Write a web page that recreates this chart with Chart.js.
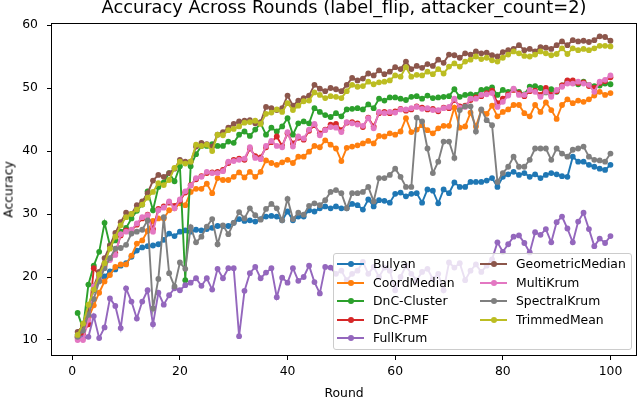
<!DOCTYPE html>
<html>
<head>
<meta charset="utf-8">
<script src="https://cdn.jsdelivr.net/npm/chart.js@4.4.0/dist/chart.umd.min.js"></script>
<style>
  html, body { margin: 0; padding: 0; background: #fff; }
  #wrap { position: relative; width: 640px; height: 400px; font-family: "DejaVu Sans", sans-serif; color: #000; }
  #chart { position: absolute; left: 0; top: 0; }
  .txt { position: absolute; white-space: nowrap; }
  #title { left: 44px; width: 600px; top: -3px; text-align: center; font-size: 17.8px; line-height: 20px; }
  #xlabel { left: 244px; width: 200px; top: 385px; text-align: center; font-size: 12.4px; line-height: 15px; }
  #ylabel { left: -92px; width: 200px; top: 182px; text-align: center; font-size: 12.4px; line-height: 15px; transform: rotate(-90deg); }
  #legend { position: absolute; left: 333px; top: 253px; width: 297px; height: 95px;
            background: rgba(255,255,255,0.8); border: 1px solid #cccccc; border-radius: 3px; }
  .item { position: absolute; width: 140px; height: 16px; font-size: 12.4px; line-height: 16px; white-space: nowrap; }
  .item .ln { position: absolute; left: 0; top: 7px; width: 27px; height: 2px; }
  .item .dot { position: absolute; left: 10.5px; top: 5px; width: 6px; height: 6px; border-radius: 50%; }
  .item span { position: absolute; left: 36px; top: 0; white-space: nowrap; }
</style>
</head>
<body>
<div id="wrap">
  <canvas id="chart" width="640" height="400"></canvas>
  <div class="txt" id="title">Accuracy Across Rounds (label_flip, attacker_count=2)</div>
  <div class="txt" id="xlabel">Round</div>
  <div class="txt" id="ylabel">Accuracy</div>
  <div id="legend"></div>
</div>
<script>
const rounds = [1, 2, 3, 4, 5, 6, 7, 8, 9, 10, 11, 12, 13, 14, 15, 16, 17, 18, 19, 20,
  21, 22, 23, 24, 25, 26, 27, 28, 29, 30, 31, 32, 33, 34, 35, 36, 37, 38, 39, 40,
  41, 42, 43, 44, 45, 46, 47, 48, 49, 50, 51, 52, 53, 54, 55, 56, 57, 58, 59, 60,
  61, 62, 63, 64, 65, 66, 67, 68, 69, 70, 71, 72, 73, 74, 75, 76, 77, 78, 79, 80,
  81, 82, 83, 84, 85, 86, 87, 88, 89, 90, 91, 92, 93, 94, 95, 96, 97, 98, 99, 100];

const seriesNames = ['Bulyan', 'CoordMedian', 'DnC-Cluster', 'DnC-PMF', 'FullKrum',
  'GeometricMedian', 'MultiKrum', 'SpectralKrum', 'TrimmedMean'];
const seriesColors = ['#1f77b4', '#ff7f0e', '#2ca02c', '#d62728', '#9467bd',
  '#8c564b', '#e377c2', '#7f7f7f', '#bcbd22'];

const xTicks = [0, 20, 40, 60, 80, 100];
const yTicks = [10, 20, 30, 40, 50, 60];

const bulyan = [10.8, 12.6, 15.3, 17.9, 19.4, 20.1, 20.9, 21.2, 21.8, 22.2,
  23.2, 24.2, 24.7, 24.9, 25.0, 25.2, 25.9, 26.9, 26.5, 27.2,
  27.4, 27.2, 27.5, 27.4, 27.6, 27.8, 28.1, 28.1, 28.1, 28.6,
  29.2, 28.9, 29.0, 28.8, 29.2, 29.6, 29.7, 29.6, 29.0, 30.4,
  29.0, 29.6, 29.6, 30.6, 30.4, 30.9, 31.2, 30.9, 31.2, 30.9,
  30.9, 31.6, 31.4, 30.7, 32.3, 31.2, 32.2, 32.1, 31.8, 33.2,
  33.4, 32.8, 33.2, 33.3, 31.8, 33.9, 33.7, 31.7, 33.9, 33.3,
  35.0, 34.3, 34.3, 35.1, 35.1, 35.1, 35.3, 35.7, 34.3, 35.9,
  36.3, 36.7, 36.2, 36.5, 35.9, 36.3, 35.7, 36.2, 36.5, 36.3,
  36.0, 35.9, 39.1, 38.3, 38.3, 37.8, 37.5, 37.2, 37.0, 37.8];

const coordMedian = [10.5, 11.5, 13.5, 15.5, 17.5, 19.3, 20.3, 21.6, 22.0, 22.0,
  23.4, 25.3, 25.8, 27.3, 28.9, 29.3, 29.3, 30.6, 30.9, 31.7,
  31.4, 33.5, 34.0, 34.0, 34.8, 33.3, 35.7, 35.4, 35.4, 35.9,
  36.6, 35.8, 36.7, 35.9, 36.7, 38.5, 38.1, 37.8, 38.2, 38.6,
  38.1, 39.1, 39.1, 39.9, 40.8, 40.6, 41.7, 41.0, 40.4, 38.4,
  40.5, 40.7, 40.9, 41.2, 41.6, 41.2, 42.4, 42.3, 42.8, 42.6,
  43.1, 45.2, 43.0, 43.4, 44.1, 43.3, 42.8, 43.6, 44.0, 44.0,
  46.9, 43.7, 43.9, 46.1, 43.9, 46.5, 45.9, 47.2, 45.5, 46.2,
  46.6, 47.3, 47.3, 46.0, 45.5, 47.3, 46.2, 47.7, 46.5, 45.1,
  47.3, 48.2, 47.6, 48.0, 47.8, 48.2, 48.8, 49.4, 48.9, 49.2];

const dncCluster = [14.3, 11.8, 18.8, 21.8, 24.0, 28.6, 25.0, 25.8, 27.2, 27.8,
  29.3, 30.5, 31.5, 33.6, 30.6, 34.3, 35.0, 36.5, 35.2, 37.6,
  19.5, 37.6, 39.5, 40.8, 40.8, 41.1, 40.8, 40.8, 41.5, 41.3,
  42.6, 43.1, 42.4, 43.4, 44.4, 42.6, 43.7, 43.1, 43.9, 45.2,
  42.6, 44.4, 44.7, 44.4, 46.8, 46.2, 45.7, 45.4, 46.0, 45.5,
  46.6, 46.7, 46.8, 46.6, 47.4, 46.8, 48.3, 48.0, 48.5, 48.5,
  48.3, 48.1, 48.6, 48.7, 48.3, 48.8, 48.4, 48.5, 48.6, 48.7,
  49.8, 48.6, 48.9, 49.0, 48.9, 49.7, 49.8, 50.1, 48.9, 49.7,
  49.4, 49.8, 49.4, 49.0, 50.2, 50.3, 50.0, 49.3, 49.8, 49.4,
  50.4, 51.1, 50.8, 50.6, 51.0, 50.5, 50.3, 50.4, 50.7, 50.6];

const dncPmf = [10.3, 11.0, 12.5, 21.4, 20.3, 21.8, 22.9, 23.8, 26.6, 27.4,
  27.4, 28.3, 29.3, 29.9, 27.6, 30.8, 31.2, 31.8, 31.3, 32.1,
  33.4, 34.6, 35.5, 36.0, 36.5, 36.6, 36.7, 37.0, 38.1, 38.6,
  38.8, 38.6, 40.4, 39.2, 39.0, 40.6, 41.4, 42.3, 40.8, 42.8,
  41.2, 42.1, 41.8, 43.2, 44.1, 42.8, 43.4, 44.2, 44.3, 43.3,
  44.5, 44.6, 44.4, 43.8, 45.3, 43.9, 46.0, 46.2, 46.0, 46.3,
  46.7, 46.4, 46.6, 47.1, 46.9, 46.6, 46.7, 46.3, 46.9, 46.8,
  48.1, 47.1, 47.2, 48.1, 48.5, 48.7, 49.2, 49.6, 47.6, 48.3,
  49.0, 49.7, 49.2, 48.7, 49.5, 49.6, 48.9, 50.0, 48.9, 49.5,
  50.4, 51.2, 51.2, 50.8, 50.9, 50.3, 50.0, 50.8, 51.1, 51.7];

const fullKrum = [10.5, 10.3, 10.5, 13.8, 10.3, 12.0, 16.6, 15.4, 11.9, 18.2,
  16.1, 13.4, 16.1, 17.9, 12.5, 17.5, 15.6, 17.1, 18.2, 17.9,
  18.7, 19.1, 19.8, 18.6, 19.8, 18.0, 21.3, 19.8, 21.4, 21.4,
  10.6, 17.8, 20.6, 21.6, 19.8, 20.7, 21.4, 16.8, 19.9, 19.1,
  21.4, 19.4, 20.0, 21.8, 19.2, 17.4, 21.6, 21.5, 20.5, 21.0,
  19.5, 20.5, 21.0, 22.4, 20.5, 21.6, 20.0, 21.5, 21.0, 17.9,
  20.0, 21.8, 20.5, 19.5, 20.8, 21.3, 19.7, 20.5, 17.9, 22.3,
  21.5, 22.2, 19.5, 21.0, 22.0, 20.8, 21.8, 22.8, 25.5, 24.0,
  25.2, 26.4, 26.6, 25.4, 23.9, 27.1, 26.7, 27.6, 25.5, 28.7,
  29.6, 27.7, 25.5, 28.8, 30.2, 27.6, 24.9, 26.1, 25.4, 26.5];

const geometricMedian = [11.3, 12.3, 14.5, 18.5, 20.8, 23.0, 25.0, 27.0, 28.7, 30.2,
  30.0, 31.4, 32.0, 33.3, 35.3, 36.2, 35.9, 36.5, 37.2, 38.6,
  38.3, 38.3, 40.7, 41.3, 41.1, 40.7, 42.6, 43.0, 43.7, 44.3,
  44.7, 44.8, 44.9, 44.4, 44.6, 47.0, 46.8, 46.5, 46.8, 48.8,
  47.2, 48.0, 48.4, 48.8, 50.5, 49.9, 49.5, 50.0, 49.8, 49.5,
  50.5, 51.6, 51.2, 51.5, 52.3, 52.0, 52.8, 52.2, 52.6, 53.3,
  53.0, 54.2, 53.0, 53.5, 53.2, 53.8, 53.5, 54.5, 54.0, 55.3,
  55.2, 54.8, 55.5, 55.3, 55.8, 55.5, 55.6, 55.2, 55.0, 55.7,
  56.0, 56.2, 56.8, 56.0, 56.2, 55.8, 56.5, 56.4, 56.2, 56.8,
  57.4, 56.8, 57.6, 57.4, 57.5, 57.3, 57.6, 58.2, 58.1, 57.5];

const multiKrum = [10.0, 10.0, 13.2, 18.5, 19.8, 22.0, 22.7, 23.5, 26.8, 27.2,
  27.5, 28.5, 29.5, 29.8, 27.2, 30.6, 31.0, 32.0, 30.9, 32.3,
  33.6, 34.5, 35.7, 35.9, 36.7, 36.5, 36.5, 36.8, 38.3, 38.4,
  38.6, 38.8, 40.6, 38.9, 38.7, 40.8, 41.6, 40.8, 40.6, 43.0,
  40.7, 42.3, 42.0, 43.4, 44.3, 42.5, 43.3, 43.8, 43.7, 43.0,
  44.6, 44.4, 44.2, 44.0, 45.2, 43.6, 46.2, 46.0, 46.2, 46.1,
  46.6, 46.6, 46.8, 47.0, 46.7, 46.8, 46.5, 46.5, 46.8, 47.0,
  48.3, 46.9, 47.0, 48.3, 48.3, 48.9, 49.0, 49.2, 47.0, 47.8,
  48.8, 49.9, 48.9, 48.9, 49.7, 49.4, 48.6, 49.4, 48.6, 49.7,
  50.2, 50.7, 50.7, 51.0, 50.7, 50.5, 49.4, 51.0, 51.3, 52.0];

const spectralKrum = [10.5, 11.5, 14.0, 16.5, 19.3, 21.4, 23.0, 24.5, 24.6, 25.1,
  26.9, 27.2, 27.5, 29.0, 15.0, 19.7, 29.5, 20.6, 18.5, 22.3,
  21.3, 27.9, 25.5, 26.4, 28.0, 29.2, 25.2, 28.2, 26.8, 28.6,
  30.3, 29.3, 30.9, 29.8, 29.1, 30.8, 31.6, 30.9, 29.0, 32.4,
  29.2, 30.2, 29.9, 31.3, 31.7, 31.4, 32.2, 33.5, 33.8, 33.3,
  30.9, 33.3, 33.3, 33.5, 34.3, 32.0, 35.7, 35.7, 36.2, 37.2,
  35.9, 34.3, 34.3, 45.3, 44.7, 40.4, 36.5, 38.3, 41.5, 41.5,
  38.9, 46.5, 47.1, 47.1, 43.1, 46.6, 44.9, 44.1, 35.1, 36.5,
  37.5, 39.1, 37.5, 37.5, 38.6, 40.4, 40.4, 40.4, 38.6, 40.4,
  39.6, 39.1, 40.2, 40.4, 40.7, 39.1, 38.6, 38.5, 38.3, 39.6];

const trimmedMean = [10.8, 12.6, 15.6, 18.0, 20.4, 22.2, 24.5, 26.4, 28.2, 29.5,
  30.0, 30.7, 31.5, 32.6, 33.5, 34.9, 34.6, 35.4, 37.3, 38.3,
  38.0, 38.3, 41.0, 40.8, 41.0, 40.0, 42.6, 42.5, 43.3, 43.5,
  43.9, 44.5, 44.6, 44.8, 44.3, 45.9, 46.1, 46.6, 46.2, 47.6,
  46.5, 47.2, 47.9, 48.0, 49.3, 48.9, 48.4, 48.7, 48.6, 48.4,
  49.5, 50.5, 50.2, 50.3, 51.0, 50.6, 50.9, 51.0, 51.2, 52.0,
  51.8, 53.3, 51.8, 52.1, 52.0, 52.6, 52.2, 53.0, 52.3, 53.4,
  53.9, 53.4, 54.2, 54.5, 55.0, 54.6, 54.8, 54.4, 54.2, 54.8,
  55.3, 55.8, 55.5, 55.1, 55.0, 55.3, 55.8, 55.5, 55.2, 55.4,
  56.3, 55.4, 56.3, 56.0, 56.2, 56.0, 56.3, 56.7, 56.7, 56.6];

const seriesValues = [bulyan, coordMedian, dncCluster, dncPmf, fullKrum,
  geometricMedian, multiKrum, spectralKrum, trimmedMean];

// matplotlib draws later series on top, chart.js the other way round
const datasets = seriesNames.map((name, i) => ({
  label: name,
  data: rounds.map((r, j) => ({ x: r, y: seriesValues[i][j] })),
  borderColor: seriesColors[i],
  backgroundColor: seriesColors[i],
  pointBackgroundColor: seriesColors[i],
  borderWidth: 1.9,
  pointRadius: 2.9,
  pointBorderWidth: 0,
  pointHoverRadius: 0,
  tension: 0,
  fill: false,
  order: seriesNames.length - i
}));

// full box round the axes, like matplotlib spines
const frame = {
  id: 'frame',
  afterDatasetsDraw(chart) {
    const a = chart.chartArea;
    const ctx = chart.ctx;
    ctx.save();
    ctx.strokeStyle = '#000';
    ctx.lineWidth = 1;
    ctx.strokeRect(Math.round(a.left) + 0.5, Math.round(a.top) + 0.5,
      Math.round(a.right - a.left) - 1, Math.round(a.bottom - a.top) - 1);
    ctx.restore();
  }
};

Chart.defaults.font.family = '"DejaVu Sans", sans-serif';
Chart.defaults.font.size = 12.4;
Chart.defaults.color = '#000';

const axisGrid = {
  display: true,
  drawOnChartArea: false,
  drawTicks: true,
  tickLength: 4,
  tickColor: '#000',
  tickWidth: 1
};

new Chart(document.getElementById('chart'), {
  type: 'line',
  data: { datasets: datasets },
  plugins: [frame],
  options: {
    responsive: false,
    animation: false,
    events: [],
    layout: { padding: { left: 0, right: 2, top: 23, bottom: 0 } },
    plugins: {
      legend: { display: false },
      title: { display: false },
      tooltip: { enabled: false }
    },
    scales: {
      x: {
        type: 'linear',
        min: -3.95,
        max: 104.95,
        grid: axisGrid,
        border: { display: false },
        ticks: { padding: 4, maxRotation: 0, color: '#000' },
        afterBuildTicks: s => { s.ticks = xTicks.map(v => ({ value: v })); },
        afterFit: s => { s.height = 44; }
      },
      y: {
        type: 'linear',
        min: 7.46,
        max: 60.32,
        grid: axisGrid,
        border: { display: false },
        ticks: { padding: 9, color: '#000' },
        afterBuildTicks: s => { s.ticks = yTicks.map(v => ({ value: v })); },
        afterFit: s => { s.width = 51; }
      }
    }
  }
});

// legend inside the axes, two columns filled top to bottom
const legend = document.getElementById('legend');
seriesNames.forEach((name, i) => {
  const col = Math.floor(i / 5);
  const row = i % 5;
  const item = document.createElement('div');
  item.className = 'item';
  item.style.left = (3 + col * 143) + 'px';
  item.style.top = (2 + row * 18.6) + 'px';
  item.innerHTML = '<div class="ln" style="background:' + seriesColors[i] + '"></div>' +
    '<div class="dot" style="background:' + seriesColors[i] + '"></div>' +
    '<span>' + name + '</span>';
  legend.appendChild(item);
});
</script>
</body>
</html>
